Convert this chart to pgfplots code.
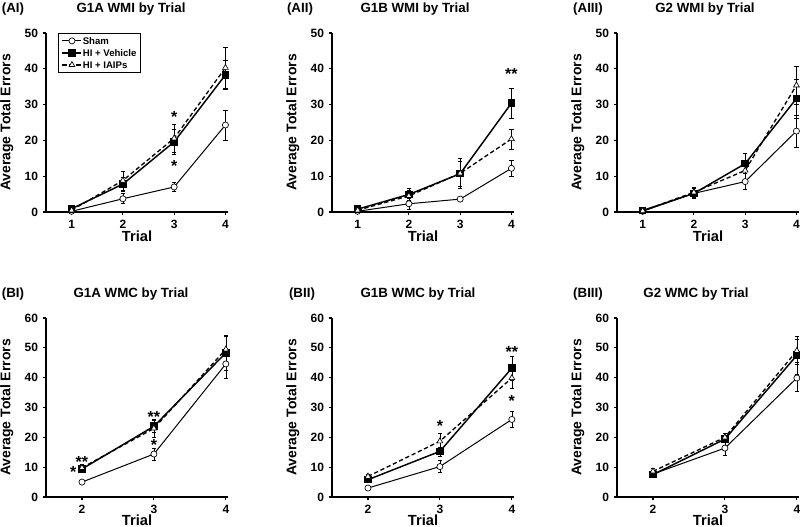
\documentclass[border=0pt]{standalone}
\usepackage{fontspec}
\setmainfont{Liberation Sans}
\usepackage{pgfplots}
\pgfplotsset{compat=1.18}
\tikzset{
  st/.style={font=\bfseries\fontsize{12}{12}\selectfont, inner sep=0pt, anchor=north, yshift=1.8pt},
  ttl/.style={font=\bfseries\fontsize{10}{12}\selectfont, anchor=base},
}
\pgfplotsset{
  panel/.style={
    scale only axis, width=136.5pt, height=134.25pt,
    axis x line=bottom, axis y line=left,
    axis line style={line width=0.8pt, -},
    tick style={line width=0.8pt, black},
    tick align=outside, major tick length=2.5pt,
    /pgf/number format/assume math mode=true,
    tick label style={font=\bfseries\fontsize{9}{10}\selectfont},
    ylabel style={font=\bfseries\fontsize{10.5}{12}\selectfont},
    xlabel style={font=\bfseries\fontsize{11}{12}\selectfont},
    xlabel={Trial}, ylabel={Average Total Errors},
    ylabel style={at={(axis description cs:-0.215,0.5)}, anchor=center},
    clip=false, ymin=0, enlargelimits=false,
    legend image code/.code={\draw[mark repeat=2,mark phase=2] plot coordinates {(0cm,0cm) (0.25cm,0cm) (0.5cm,0cm)};},
  },
  paneA/.style={panel, xmin=0.5, xmax=4.05, ymax=50, xtick={1,2,3,4}, ytick={0,10,...,50},
    xlabel style={at={(axis description cs:0.5,-0.134)}, anchor=center}},
  paneB/.style={panel, xmin=1.5, xmax=4.03, ymax=60, xtick={2,3,4}, ytick={0,10,...,60},
    xlabel style={at={(axis description cs:0.5,-0.128)}, anchor=center}},
  ebar/.style={error bars/.cd, y dir=both, y explicit,
    error bar style={line width=0.45pt, solid},
    error mark options={rotate=90, mark size=1.6pt, line width=0.45pt}},
  sham/.style={black, line width=0.75pt, solid, mark=*, mark size=2.3pt,
    mark options={solid, fill=white, line width=0.5pt}, ebar},
  veh/.style={black, line width=1.1pt, solid, mark=square*, mark size=2.3pt,
    mark options={solid, fill=black}, ebar},
  iaip/.style={black, line width=1.0pt, dash pattern=on 3.2pt off 2pt, mark=triangle*, mark size=2.5pt,
    mark options={solid, fill=white, line width=0.5pt}, ebar},
}
\begin{document}
\begin{tikzpicture}
\path[use as bounding box] (0pt,0pt) rectangle (600pt,-395.25pt);

% ---------- AI ----------
\begin{axis}[paneA, at={(34.5pt,-159pt)}, anchor=south west,
  legend style={at={(axis description cs:0.066,1)}, anchor=north west,
    font=\bfseries\fontsize{7.2}{8}\selectfont, draw=black, line width=0.6pt,
    inner xsep=2.5pt, inner ysep=2.5pt, row sep=2.8pt,
    nodes={inner sep=0.5pt, text height=5.2pt, text depth=0pt},
    cells={anchor=west}}]
\addplot[sham] coordinates {(1,0.2) +- (0,0.3) (2,3.7) +- (0,1.4) (3,7.0) +- (0,1.2) (4,24.3) +- (0,4.2)};
\addplot[veh] coordinates {(1,0.9) +- (0,0.5) (2,7.8) +- (0,2.0) (3,19.6) +- (0,3.5) (4,38.3) +- (0,4.0)};
\addplot[iaip] coordinates {(1,0.5) +- (0,0.4) (2,8.8) +- (0,2.6) (3,20.6) +- (0,3.8) (4,40.3) +- (0,5.8)};
\legend{Sham, HI + Vehicle, HI + IAIPs}
\node[st] at (axis cs:3,27.4) {*};
\node[st] at (axis cs:3,13.7) {*};
\end{axis}

% ---------- AII ----------
\begin{axis}[paneA, at={(249pt,-159pt)}, anchor=south west]
\addplot[sham] coordinates {(1,0.2) +- (0,0.3) (2,2.3) +- (0,1.5) (3,3.6) +- (0,0.6) (4,12.2) +- (0,2.2)};
\addplot[veh] coordinates {(1,0.8) +- (0,0.4) (2,4.9) +- (0,1.6) (3,10.7) +- (0,3.5) (4,30.4) +- (0,4.2)};
\addplot[iaip] coordinates {(1,0.5) +- (0,0.4) (2,4.5) +- (0,1.5) (3,10.8) +- (0,4.2) (4,20.4) +- (0,2.8)};
\node[st] at (axis cs:4,39.5) {**};
\end{axis}

% ---------- AIII ----------
\begin{axis}[paneA, at={(462.75pt,-159pt)}, anchor=south west]
\addplot[sham] coordinates {(1,0.2) +- (0,0.2) (2,5.2) +- (0,1.3) (3,8.5) +- (0,2.2) (4,22.6) +- (0,4.5)};
\addplot[veh] coordinates {(1,0.4) +- (0,0.3) (2,5.2) +- (0,1.5) (3,13.5) +- (0,2.8) (4,31.7) +- (0,5.5)};
\addplot[iaip] coordinates {(1,0.3) +- (0,0.2) (2,5.5) +- (0,1.3) (3,11.6) +- (0,2.5) (4,35.4) +- (0,5.3)};
\end{axis}

% ---------- BI ----------
\begin{axis}[paneB, at={(34.5pt,-372.75pt)}, anchor=south west]
\addplot[sham] coordinates {(2,5.0) +- (0,0.5) (3,14.4) +- (0,2.0) (4,44.6) +- (0,4.8)};
\addplot[veh] coordinates {(2,9.4) +- (0,1.0) (3,23.7) +- (0,2.0) (4,48.3) +- (0,5.7)};
\addplot[iaip] coordinates {(2,9.8) +- (0,1.0) (3,23.0) +- (0,3.0) (4,49.5) +- (0,4.8)};
\node[st] at (axis cs:2,12.8) {**};
\node[st] at (axis cs:1.88,9.4) {*};
\node[st] at (axis cs:3,27.9) {**};
\node[st] at (axis cs:3,18.7) {*};
\end{axis}

% ---------- BII ----------
\begin{axis}[paneB, at={(249pt,-372.75pt)}, anchor=south west]
\addplot[sham] coordinates {(2,3.0) +- (0,0.5) (3,10.2) +- (0,2.0) (4,26.0) +- (0,2.8)};
\addplot[veh] coordinates {(2,5.8) +- (0,1.0) (3,15.3) +- (0,1.5) (4,43.2) +- (0,4.0)};
\addplot[iaip] coordinates {(2,6.9) +- (0,0.8) (3,18.7) +- (0,2.7) (4,39.9) +- (0,3.5)};
\node[st] at (axis cs:3,24.8) {*};
\node[st] at (axis cs:4,49.9) {**};
\node[st] at (axis cs:4,33.2) {*};
\end{axis}

% ---------- BIII ----------
\begin{axis}[paneB, at={(462.75pt,-372.75pt)}, anchor=south west]
\addplot[sham] coordinates {(2,7.7) +- (0,1.0) (3,16.4) +- (0,2.5) (4,39.9) +- (0,4.5)};
\addplot[veh] coordinates {(2,7.5) +- (0,0.8) (3,19.4) +- (0,2.0) (4,47.5) +- (0,6.5)};
\addplot[iaip] coordinates {(2,8.6) +- (0,1.0) (3,20.0) +- (0,1.5) (4,49.0) +- (0,4.0)};
\end{axis}

% ---------- titles ----------
\node[ttl] at (9.75pt,-9.75pt) {(AI)};
\node[ttl] at (98.25pt,-9.75pt) {G1A WMI by Trial};
\node[ttl] at (225pt,-9.75pt) {(AII)};
\node[ttl] at (311.25pt,-9.75pt) {G1B WMI by Trial};
\node[ttl] at (441pt,-9.75pt) {(AIII)};
\node[ttl] at (528.75pt,-9.75pt) {G2 WMI by Trial};
\node[ttl] at (9.75pt,-223.5pt) {(BI)};
\node[ttl] at (98.25pt,-223.5pt) {G1A WMC by Trial};
\node[ttl] at (226.5pt,-223.5pt) {(BII)};
\node[ttl] at (313.5pt,-223.5pt) {G1B WMC by Trial};
\node[ttl] at (441pt,-223.5pt) {(BIII)};
\node[ttl] at (522pt,-223.5pt) {G2 WMC by Trial};
\end{tikzpicture}
\end{document}
